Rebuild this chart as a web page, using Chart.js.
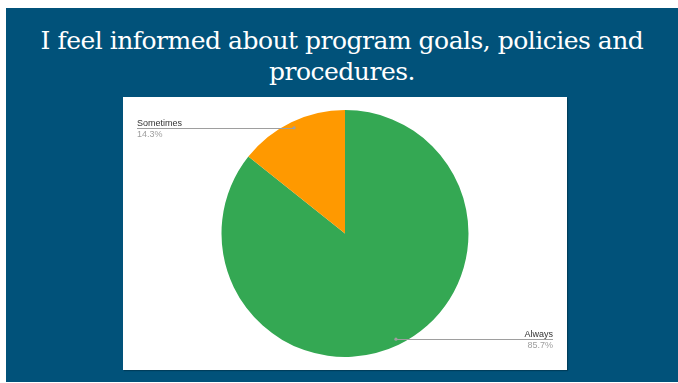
<!DOCTYPE html>
<html>
<head>
<meta charset="utf-8">
<script src="https://cdn.jsdelivr.net/npm/chart.js@4"></script>
<style>
  html, body { margin: 0; padding: 0; background: #fff; width: 678px; height: 383px; overflow: hidden; }
  .slide {
    position: absolute; left: 6px; top: 8px; width: 672px; height: 374px;
    background: #01527a;
  }
  .title {
    position: absolute; left: 0; top: 17px; width: 672px; text-align: center;
    font-family: "DejaVu Serif", serif; font-size: 25px; line-height: 31px;
    letter-spacing: -0.5px; color: #fff;
  }
  .box {
    position: absolute; left: 117px; top: 89px; width: 444px; height: 273px;
    background: #fff; box-shadow: 1px 1px 1px rgba(0,0,0,0.25);
  }
</style>
</head>
<body>
<div class="slide">
  <div class="title">I feel informed about program goals, policies and<br>procedures.</div>
  <div class="box"><canvas id="pie" width="444" height="273"></canvas></div>
</div>
<script>
const answers = ['Always', 'Sometimes'];
const shares = [85.7, 14.3];
const sliceColors = ['#34a853', '#ff9900'];

// leader line + label for each slice, Google-sheets style
const sliceLabels = {
  id: 'sliceLabels',
  afterDraw(chart) {
    const ctx = chart.ctx;
    const arcs = chart.getDatasetMeta(0).data;
    const w = chart.width;
    arcs.forEach((arc, i) => {
      const { x, y, startAngle, endAngle, outerRadius } = arc.getProps(['x', 'y', 'startAngle', 'endAngle', 'outerRadius'], true);
      const mid = (startAngle + endAngle) / 2;
      const px = x + Math.cos(mid) * outerRadius * 0.95;
      const py = y + Math.sin(mid) * outerRadius * 0.95;
      const left = Math.cos(mid) < 0;
      const lx = left ? 14 : w - 14;

      ctx.save();
      ctx.strokeStyle = '#9e9e9e';
      ctx.lineWidth = 1;
      ctx.beginPath();
      ctx.moveTo(px, Math.round(py) + 0.5);
      ctx.lineTo(lx, Math.round(py) + 0.5);
      ctx.stroke();
      ctx.fillStyle = '#9e9e9e';
      ctx.beginPath();
      ctx.arc(px, py, 1.6, 0, Math.PI * 2);
      ctx.fill();

      ctx.textAlign = left ? 'left' : 'right';
      ctx.font = '9px "Liberation Sans", Arial, sans-serif';
      ctx.fillStyle = '#333';
      ctx.textBaseline = 'alphabetic';
      ctx.fillText(answers[i], lx, py - 2);
      ctx.fillStyle = '#9e9e9e';
      ctx.textBaseline = 'top';
      ctx.fillText(shares[i].toFixed(1) + '%', lx, py + 2);
      ctx.restore();
    });
  }
};

new Chart(document.getElementById('pie'), {
  type: 'pie',
  data: {
    labels: answers,
    datasets: [{
      data: shares,
      backgroundColor: sliceColors,
      borderWidth: 0,
    }]
  },
  options: {
    animation: false,
    responsive: false,
    layout: { padding: { top: 13, bottom: 13 } },
    plugins: {
      legend: { display: false },
      tooltip: { enabled: false }
    }
  },
  plugins: [sliceLabels]
});
</script>
</body>
</html>
